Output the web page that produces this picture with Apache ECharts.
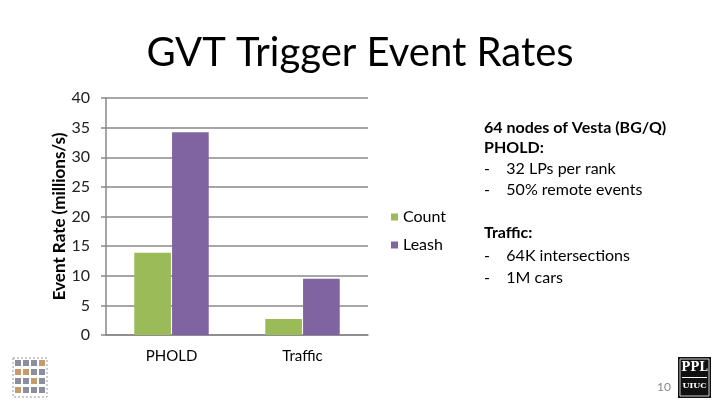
<!DOCTYPE html>
<html><head><meta charset="utf-8">
<script src="https://cdn.jsdelivr.net/npm/echarts@6/dist/echarts.min.js"></script>
<style>html,body{margin:0;padding:0;background:#fff}#c{width:720px;height:405px}</style>
</head><body><div id="c"></div>
<script>
const categories = ['PHOLD', 'Traffic'];
const countValues = [13.9, 2.7];
const leashValues = [34.2, 9.5];
const yTicks = [0, 5, 10, 15, 20, 25, 30, 35, 40];
const notes = [
  {t: '64 nodes of Vesta (BG/Q)', b: true},
  {t: 'PHOLD:', b: true},
  {t: '-    32 LPs per rank', b: false},
  {t: '-    50% remote events', b: false},
  {t: 'Traffic:', b: true},
  {t: '-    64K intersections', b: false},
  {t: '-    1M cars', b: false}
];
const noteY = [128, 148, 169, 190, 233, 256, 278];

const F = 'Lato, "Open Sans", sans-serif';
const chart = echarts.init(document.getElementById('c'));

const graphics = [];
notes.forEach((n, i) => {
  graphics.push({type: 'text', x: 484, y: noteY[i],
    style: {text: n.t, font: (n.b ? 'bold ' : '') + '16px ' + F, fill: '#000', verticalAlign: 'middle', align: 'left'}});
});
// left logo (decoration)
const lc = [['#8a8fa0','#8a8fa0','#8a8fa0','#c89a6a'],['#c89a6a','#c89a6a','#8a8fa0','#8a8fa0'],['#8a8fa0','#8a8fa0','#c89a6a','#8a8fa0'],['#c89a6a','#8a8fa0','#8a8fa0','#8a8fa0']];
for (let r = 0; r < 4; r++) for (let c = 0; c < 4; c++) {
  graphics.push({type: 'rect', shape: {x: 15 + c * 8, y: 360 + r * 9, width: 6, height: 6}, style: {fill: lc[r][c]}});
}
graphics.push({type: 'rect', shape: {x: 13, y: 358, width: 34, height: 39}, style: {fill: 'none', stroke: '#999', lineWidth: 1, lineDash: [2, 2]}});
// right logo (decoration)
graphics.push({type: 'rect', shape: {x: 678, y: 357, width: 33, height: 41}, style: {fill: '#111'}});
graphics.push({type: 'rect', shape: {x: 680, y: 359, width: 29, height: 37}, style: {fill: 'none', stroke: '#ccc', lineWidth: 1}});
graphics.push({type: 'text', x: 694.5, y: 368, style: {text: 'PPL', font: 'bold 12px "DejaVu Serif", serif', fill: '#fff', align: 'center', verticalAlign: 'middle'}});
graphics.push({type: 'rect', shape: {x: 682, y: 377, width: 25, height: 1}, style: {fill: '#fff'}});
graphics.push({type: 'text', x: 694.5, y: 386, style: {text: 'UIUC', font: 'bold 8px "DejaVu Serif", serif', fill: '#fff', align: 'center', verticalAlign: 'middle'}});
graphics.push({type: 'text', x: 657, y: 387, style: {text: '10', font: '12px ' + F, fill: '#888', verticalAlign: 'middle'}});

chart.setOption({
  animation: false,
  title: {text: 'GVT Trigger Event Rates', left: 'center', top: 28,
    textStyle: {fontFamily: F, fontWeight: 'normal', fontSize: 40, color: '#000'}},
  legend: {orient: 'vertical', left: 386, top: 204, itemWidth: 7, itemHeight: 7, itemGap: 12,
    icon: 'rect', textStyle: {fontFamily: F, fontSize: 16, color: '#000'},
    data: ['Count', 'Leash']},
  grid: {left: 106, right: 352, top: 98, bottom: 70},
  xAxis: {type: 'category', data: categories,
    axisLine: {lineStyle: {color: '#888', width: 1.5}}, axisTick: {show: false},
    axisLabel: {fontFamily: F, fontSize: 15, color: '#000', margin: 14}},
  yAxis: {type: 'value', min: 0, max: 40, interval: 5,
    name: 'Event Rate (millions/s)', nameLocation: 'middle', nameGap: 37,
    nameTextStyle: {fontFamily: F, fontWeight: 'bold', fontSize: 17, color: '#000'},
    axisLine: {show: true, lineStyle: {color: '#888', width: 1.5}},
    axisTick: {show: true, length: 5, lineStyle: {color: '#888', width: 1.5}},
    splitLine: {lineStyle: {color: '#888', width: 1.5}},
    axisLabel: {fontFamily: F, fontSize: 16, color: '#222', margin: 16,
      formatter: v => yTicks.includes(v) ? String(v) : ''}},
  series: [
    {name: 'Count', type: 'bar', data: countValues, barWidth: '28%', barGap: '3%', itemStyle: {color: '#9BBB59'}},
    {name: 'Leash', type: 'bar', data: leashValues, barWidth: '28%', itemStyle: {color: '#8064A2'}}
  ],
  graphic: graphics
});
</script></body></html>
